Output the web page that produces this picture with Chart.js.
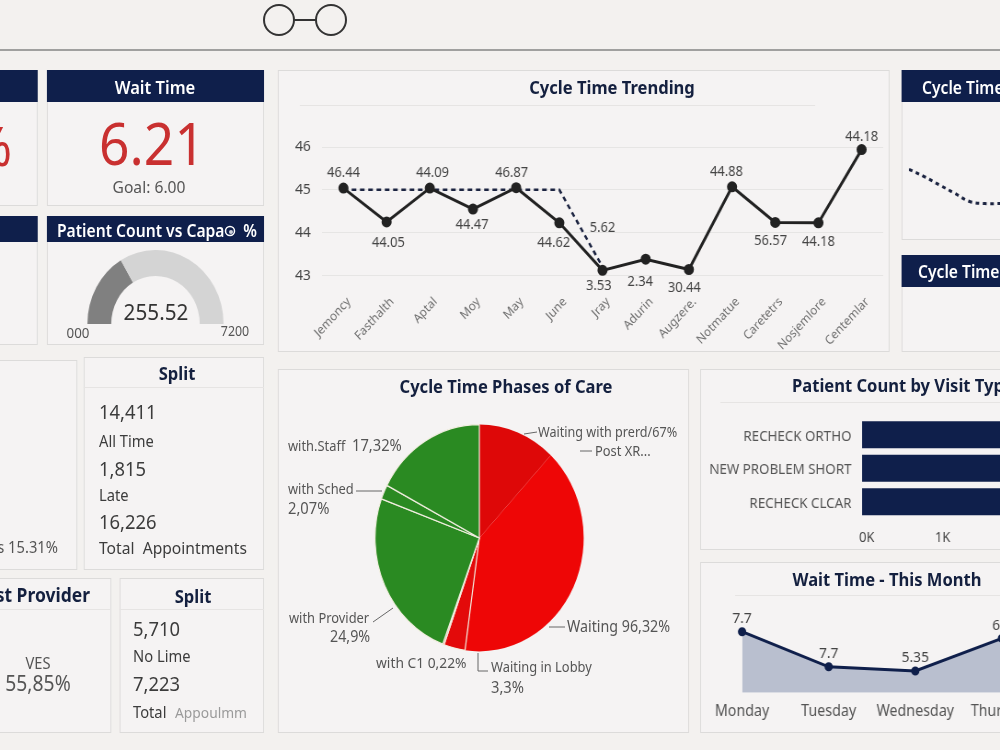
<!DOCTYPE html>
<html>
<head>
<meta charset="utf-8">
<title>Clinic cycle time dashboard</title>
<script src="https://cdn.jsdelivr.net/npm/chart.js@4/dist/chart.umd.min.js"></script>
<style>
  html, body { margin: 0; width: 1000px; height: 750px; overflow: hidden; background: #f3f1ef; }
  #stage { position: absolute; left: 0; top: 0; height: 750px; overflow: hidden;
           transform-origin: 0 0; font-family: "Noto Sans", sans-serif; }
  .panel { position: absolute; box-sizing: border-box; background: #f5f3f3; border: 1.5px solid #dcdbda; }
  .head  { position: absolute; background: #0f1f4b; }
  .rule  { position: absolute; height: 1px; background: #e6e4e3; }
  .txt   { position: absolute; white-space: pre; line-height: 1; }
  .plot  { position: absolute; }
  #lines { position: absolute; left: 0; top: 0; pointer-events: none; }
</style>
</head>
<body>
<div id="stage"></div>
<svg id="lines" width="1000" height="750" fill="none" stroke="#666" stroke-width="1">
  <line x1="0" y1="50" x2="1000" y2="50" stroke="#858585" stroke-width="1.5"/>
  <circle cx="279" cy="20" r="15" stroke="#333" stroke-width="2"/>
  <circle cx="331" cy="20" r="15" stroke="#333" stroke-width="2"/>
  <line x1="294" y1="20" x2="316" y2="20" stroke="#333" stroke-width="2"/>
  <circle cx="230" cy="231" r="4.5" stroke="#fff" stroke-width="1.5"/>
  <circle cx="231" cy="232" r="2" fill="#cfd3dc" stroke="none"/>
  <path d="M524 434 L537 432"/>
  <path d="M580 451 L592 451"/>
  <path d="M549 627 L565 627"/>
  <path d="M478 653 L478 671 L488 671"/>
  <path d="M373 622 L393 608"/>
  <path d="M356 491 L382 491"/>
</svg>

<script>
// Cycle time trend
const trendMonths = ["Jemoncy","Fasthalth","Aptal","Moy","May","June","Jray","Adurin","Augzere.","Notmatue","Caretetrs","Nosjemlore","Centemlar"];
const trendActual = [45.04,44.25,45.04,44.55,45.05,44.23,43.12,43.38,43.14,45.07,44.24,44.23,45.94];
const trendGoal   = [45,45,45,45,45,45,43.2,null,null,null,null,null,null];
const trendPrinted = ["46.44","44.05","44.09","44.47","46.87","44.62","3.53","2.34","30.44","44.88","56.57","44.18","44.18"];
const trendGoalPrinted = [null,null,null,null,null,null,"5.62",null,null,null,null,null,null];
const trendTicks = [43,44,45,46];

// Phases of care
const phaseNames  = ["Waiting with prerd","Waiting","Waiting in Lobby","with C1","with Provider","with Sched","with.Staff"];
const phaseShares = [12,40.19,3.3,0.22,24.9,2.07,17.32];

// Gauge
const gaugeFilled = [2376];
const gaugeRest   = [4824];

// Visit types, thousands of patients
const visitTypes  = ["RECHECK ORTHO","NEW PROBLEM SHORT","RECHECK CLCAR"];
const visitCounts = [2.6,2.5,2.4];

// Wait time by weekday
const waitDays    = ["Monday","Tuesday","Wednesday","Thursday"];
const waitValues  = [7.7,5.6,5.35,7.3];
const waitPrinted = ["7.7","7.7","5.35","6.9"];

// Small cycle time sparkline
const sparkSteps  = ["1","2","3","4","5","6","7"];
const sparkValues = [48.3,47.6,46.8,46,45.2,45,45];

const NAVY = "#0f1f4b";
const TITLE = "#14203f";
const INK  = "#444";
const FONT = '"Noto Sans", sans-serif';
const K = 0.92;   // the whole board is set slightly condensed

const stage = document.getElementById("stage");
stage.style.width = (1000 / K) + "px";
stage.style.transform = "scaleX(" + K + ")";

function add(cls, x, y, w, h) {
  const el = document.createElement("div");
  el.className = cls;
  el.style.left = (x / K) + "px";
  el.style.top = y + "px";
  if (w != null) el.style.width = (w / K) + "px";
  if (h != null) el.style.height = h + "px";
  stage.appendChild(el);
  return el;
}
function text(str, x, y, size, opts) {
  opts = opts || {};
  const el = add("txt", x, y);
  el.textContent = str;
  el.style.fontSize = size + "px";
  el.style.color = opts.color || INK;
  el.style.fontWeight = opts.weight || 400;
  const tx = opts.align === "left" ? "0" : opts.align === "right" ? "-100%" : "-50%";
  el.style.transform = "translate(" + tx + ",-50%)";
  return el;
}
function canvasAt(x, y, w, h) {
  const box = add("plot", x, y);
  const c = document.createElement("canvas");
  c.width = w; c.height = h;
  box.appendChild(c);
  return c;
}

// Panels and navy title bars
[[-20,70,58,136],[47,70,217,136],[-20,216,58,129],[47,216,217,129]].forEach(p => add("panel",p[0],p[1],p[2],p[3]));
[[-20,70,58,32],[47,70,217,32],[-20,216,58,26],[47,216,217,26]].forEach(p => add("head",p[0],p[1],p[2],p[3]));
[[-20,360,97,210],[84,357,180,213],[-20,578,131,155],[120,578,144,155]].forEach(p => add("panel",p[0],p[1],p[2],p[3]));
add("panel",278,70,612,282);
add("panel",902,70,120,170); add("head",902,70,120,32);
add("panel",902,255,120,97); add("head",902,255,120,32);
add("panel",278,369,411,364);
add("panel",700,369,320,181);
add("panel",700,562,320,171);
[[84,387,180],[-20,609,130],[120,609,144],[300,105,515],[720,402,280],[735,595,265]].forEach(r => add("rule",r[0],r[1],r[2]));

// Headline cards
text("%", 12, 145, 54, {color:"#c93030", align:"right"});
text("Wait Time", 155, 87, 18, {color:"#fff", weight:600});
text("6.21", 152, 143, 58, {color:"#c93030"});
text("Goal: 6.00", 149, 186, 17, {color:"#555"});
text("Patient Count vs Capa", 57, 230, 17, {color:"#fff", weight:600, align:"left"});
text("%", 257, 230, 17, {color:"#fff", weight:600, align:"right"});
text("255.52", 156, 312, 22.5, {color:"#333"});
text("000", 78, 332, 14.5, {color:"#555"});
text("7200", 235, 332, 13.5, {color:"#555"});

// Split lists
text("s 15.31%", 58, 547, 16, {color:"#555", align:"right"});
text("Split", 177, 373, 18, {color:TITLE, weight:700});
[["14,411",412,20],["All Time",441,16],["1,815",469,20],["Late",495,16],["16,226",522,20],["Total  Appointments",547,17]]
  .forEach(r => text(r[0], 99, r[1], r[2], {align:"left", color:"#3c3c3c"}));
text("st Provider", 90, 595, 19, {color:TITLE, weight:700, align:"right"});
text("VES", 38, 663, 16, {color:"#555"});
text("55,85%", 38, 683, 21, {color:"#555"});
text("Split", 193, 596, 18, {color:TITLE, weight:700});
[["5,710",629,20],["No Lime",656,16],["7,223",684,20],["Total",712,16]]
  .forEach(r => text(r[0], 133, r[1], r[2], {align:"left", color:"#3c3c3c"}));
text("Appoulmm", 175, 712, 15, {align:"left", color:"#9a9a9a"});

// Chart panel titles
text("Cycle Time Trending", 612, 87, 18, {color:TITLE, weight:700});
text("Cycle Time", 922, 87, 17, {color:"#fff", weight:600, align:"left"});
text("Cycle Time", 918, 271, 17, {color:"#fff", weight:600, align:"left"});
text("Cycle Time Phases of Care", 506, 386, 18, {color:TITLE, weight:700});
text("Patient Count by Visit Type", 792, 385, 18, {color:TITLE, weight:700, align:"left"});
text("Wait Time - This Month", 887, 579, 18, {color:TITLE, weight:700});

// Pie call-outs
[["Waiting with prerd/67%",538,432,13.7],["Post XR...",595,451,14],["Waiting 96,32%",567,627,15.5],
 ["Waiting in Lobby",491,667,14],["3,3%",491,687,16],["with C1 0,22%",376,662,15],
 ["with Provider",289,618,14],["24,9%",330,637,15.5],["with Sched",288,489,14],["2,07%",288,508,16],
 ["with.Staff",288,446,14],["17,32%",352,445,16]]
  .forEach(r => text(r[0], r[1], r[2], r[3], {align:"left", color:"#555"}));

// Value captions placed from the library's own point coordinates
const pointTags = {
  id: "pointTags",
  afterDatasetsDraw(chart, args, opts) {
    if (!opts.rows) return;
    const ctx = chart.ctx;
    ctx.save();
    ctx.font = (opts.size || 14) + "px " + FONT;
    ctx.fillStyle = opts.color || INK;
    ctx.textAlign = "center";
    ctx.textBaseline = "middle";
    opts.rows.forEach(row => {
      const pts = chart.getDatasetMeta(row.dataset).data;
      row.texts.forEach((t, i) => {
        if (t == null) return;
        ctx.fillText(t, pts[i].x + (row.dx ? row.dx[i] : 0), pts[i].y + row.dy[i]);
      });
    });
    ctx.restore();
  }
};
Chart.register(pointTags);
Chart.defaults.animation = false;
Chart.defaults.font.family = FONT;
Chart.defaults.plugins.legend.display = false;
Chart.defaults.plugins.tooltip.enabled = false;
Chart.defaults.responsive = false;
Chart.defaults.maintainAspectRatio = false;

const fixH = h => ({ afterFit(s) { s.height = h; } });
const fixW = w => ({ afterFit(s) { s.width = w; } });

// Trend line with its dashed goal
new Chart(canvasAt(278, 70, 665, 282), {
  type: "line",
  data: { labels: trendMonths, datasets: [
    { data: trendActual, borderColor:"#222", backgroundColor:"#222", borderWidth:3, pointRadius:4, tension:0, clip:false },
    { data: trendGoal, borderColor:"#1b2340", borderWidth:2.5, borderDash:[5,4], pointRadius:0, tension:0, spanGaps:false }
  ]},
  options: {
    layout: { padding: { top:77, right:3, left:0, bottom:0 } },
    scales: {
      x: { offset:true, grid:{display:false}, border:{display:false}, ...fixH(76.5),
           ticks:{ autoSkip:false, maxRotation:45, minRotation:45, padding:11, labelOffset:6, color:"#6e6e6e", font:{size:12.5} } },
      y: { min:43, max:46, afterBuildTicks(s){ s.ticks = trendTicks.map(v => ({value:v})); }, ...fixW(47.8),
           grid:{color:"#e6e5e4", drawTicks:false}, border:{display:false},
           ticks:{ padding:12, color:"#444", font:{size:15} } }
    },
    plugins: { pointTags: { size:14, rows:[
      { dataset:0, texts:trendPrinted,
        dy:[-15,21,-15,16,-15,20,16,23,19,-15,19,19,-13],
        dx:[0,2,3,-1,-5,-6,-4,-6,-5,-6,-5,0,0] },
      { dataset:1, texts:trendGoalPrinted, dy:[0,0,0,0,0,0,-39,0,0,0,0,0,0] }
    ]}}
  }
});

// Half-ring gauge
new Chart(canvasAt(87.7, 249.5, 148, 74), {
  type: "doughnut",
  data: { datasets: [{ data:[gaugeFilled[0], gaugeRest[0]], backgroundColor:["#808080","#d4d4d4"], borderWidth:0 }] },
  options: { rotation:-90, circumference:180, cutout:"65%" }
});

// Phases pie
new Chart(canvasAt(374.1, 424, 228, 228), {
  type: "pie",
  data: { labels: phaseNames, datasets: [{
    data: phaseShares,
    backgroundColor:["#de0808","#ee0606","#e30a0a","#e30a0a","#2a8a22","#2a8a22","#2a8a22"],
    borderColor:"#f3efe2",
    borderWidth:[0,0,1.2,1.2,1.2,1.2,1.2]
  }]}
});

// Visit type bars, running past the right edge of the board
new Chart(canvasAt(700, 369, 440, 181), {
  type: "bar",
  data: { labels: visitTypes, datasets: [{ data: visitCounts, backgroundColor:NAVY, barPercentage:0.81, categoryPercentage:1 }] },
  options: {
    indexAxis: "y",
    layout: { padding: { top:49, right:0 } },
    scales: {
      x: { min:0, max:3.195, grid:{display:false}, border:{display:false}, ...fixH(31.5),
           afterBuildTicks(s){ s.ticks = s.ticks.filter(t => Number.isInteger(t.value)); },
           ticks:{ stepSize:1, padding:3, labelOffset:5, color:"#444", font:{size:14}, callback:v => v + "K" } },
      y: { grid:{display:false}, border:{display:false}, ...fixW(176),
           ticks:{ padding:3.5, labelOffset:2, color:"#555", font:{size:14.5} } }
    }
  }
});

// Weekday wait time area
new Chart(canvasAt(700, 562, 388, 171), {
  type: "line",
  data: { labels: waitDays, datasets: [{
    data: waitValues, borderColor:NAVY, backgroundColor:"#b9bfcf", fill:"start",
    borderWidth:3, pointRadius:3, pointBackgroundColor:NAVY, tension:0
  }]},
  options: {
    layout: { padding: { top:64.7, left:45.6, right:60, bottom:0 } },
    scales: {
      x: { grid:{display:false}, border:{display:false}, offset:false, ...fixH(40.3),
           ticks:{ autoSkip:false, maxRotation:0, padding:2, color:"#555", font:{size:15.5} } },
      y: { display:false, min:4.05, max:8 }
    },
    plugins: { pointTags: { size:15, rows:[{ dataset:0, texts:waitPrinted, dy:[-13,-13,-13,-13] }] } }
  }
});

// Dashed sparkline in the narrow cycle time card
new Chart(canvasAt(909, 162, 99, 52), {
  type: "line",
  data: { labels: sparkSteps, datasets: [{ data: sparkValues, borderColor:"#1b2340", borderWidth:3, borderDash:[4,4], pointRadius:0, tension:0.4 }] },
  options: {
    scales: {
      x: { display:false },
      y: { min:44, max:49, ...fixW(0), border:{display:false},
           ticks:{ display:false, stepSize:5 },
           grid:{ drawTicks:false, color:c => c.tick.value === 44 ? "#e6e5e4" : "transparent" } }
    }
  }
});
</script>
</body>
</html>
